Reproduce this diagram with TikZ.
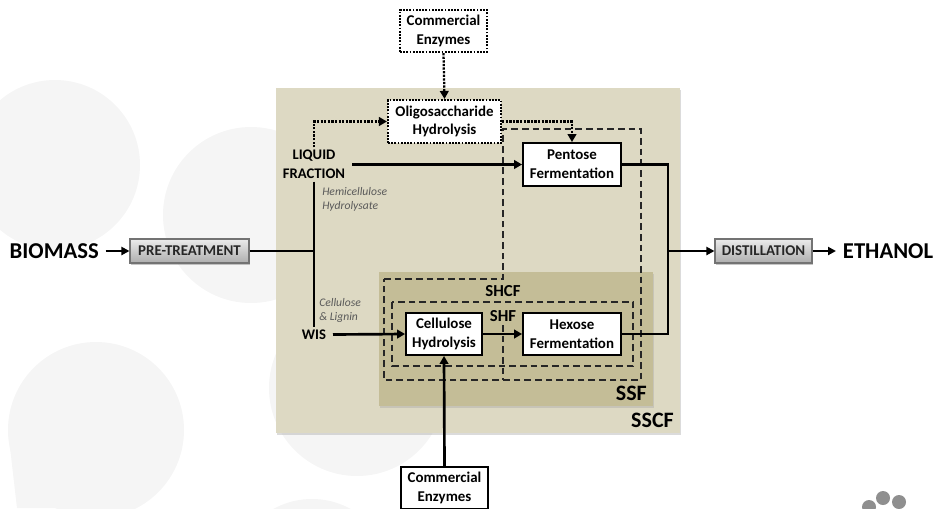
\documentclass[tikz,border=0pt]{standalone}
\usepackage{fontspec}
\setmainfont{Carlito}
\usetikzlibrary{arrows.meta,positioning}
\definecolor{outerfill}{HTML}{DDD9C3}
\definecolor{innerfill}{HTML}{C4BD97}
\definecolor{blobfill}{HTML}{F5F5F5}
\tikzset{
  x=0.75pt,y=-0.75pt,
  blob/.style={fill=blobfill,draw=none},
  panelshadow/.style={fill=black!35,opacity=0.4,draw=none},
  flowbox/.style={draw=black,line width=1.4pt,fill=white,font=\fontsize{11.2}{14}\selectfont\bfseries,align=center,inner sep=0pt},
  dotbox/.style={flowbox,densely dotted,line width=1.6pt},
  greybox/.style={draw=black!55,line width=0.8pt,top color=black!8,bottom color=black!32,font=\fontsize{11.2}{12}\selectfont\bfseries,text=black!85,inner sep=0pt,align=center},
  title/.style={font=\fontsize{17}{19}\selectfont\bfseries,inner xsep=5pt,inner ysep=2pt},
  stream/.style={font=\fontsize{11}{14}\selectfont\bfseries,align=center,inner xsep=5pt,inner ysep=2pt},
  note/.style={font=\fontsize{8.7}{10.5}\selectfont\itshape,text=black!65,align=left,anchor=west,inner sep=0pt},
  region/.style={font=\fontsize{12.6}{14}\selectfont\bfseries,inner sep=0pt},
  bigregion/.style={font=\fontsize{16.5}{18}\selectfont\bfseries,inner sep=0pt},
  flow/.style={line width=2pt,-{Triangle[length=6pt,width=6.5pt]}},
  plainflow/.style={line width=2pt},
  thinflow/.style={line width=1.5pt,-{Triangle[length=6pt,width=6pt]}},
  dotflow/.style={line width=1.7pt,densely dotted,-{Triangle[length=6pt,width=6.5pt]}},
  zone/.style={draw=black!85,line width=0.8pt,dash pattern=on 5pt off 3pt},
  sizepx/.style 2 args={minimum width=#1*0.75pt,minimum height=#2*0.75pt},
}
\begin{document}
\begin{tikzpicture}
\useasboundingbox (0,0) rectangle (935,508);
\begin{scope}
\clip (0,0) rectangle (935,508);
% background blobs
\fill[blob] (55,165) circle[radius=85];
\fill[blob] (251,215) circle[radius=88];
\fill[blob] (96,430) circle[radius=88];
\fill[blob] (8,430) -- (17,508) -- (96,508) -- (96,430) -- cycle;
\fill[blob] (357,388) circle[radius=88];
\fill[blob] (312,579) circle[radius=80];
% logo
\fill[black!44] (883,498) circle[radius=7];
\fill[black!44] (899,502) circle[radius=7];
\fill[black!44] (869,507) circle[radius=7];
% panels
\fill[panelshadow] (277,90) rectangle (681,435);
\fill[outerfill] (276,88) rectangle (680,433);
\fill[panelshadow] (380,274) rectangle (654,408);
\fill[innerfill] (379,272) rectangle (653,406);
% dashed zones
\draw[zone] (384,279) -- (503,279) -- (503,129) -- (641,129) -- (641,380) -- (384,380) -- cycle;
\draw[zone] (392,302) rectangle (633,366);
\draw[zone] (503,325) -- (503,380);
% boxes
\node[dotbox,sizepx={87}{42}] (enzA) at (443.5,31) {Commercial\\Enzymes};
\node[dotbox,sizepx={113}{43}] (oligo) at (444.5,121.5) {Oligosaccharide\\Hydrolysis};
\node[flowbox,sizepx={98}{43}] (pent) at (572,164.5) {Pentose\\Fermentation};
\node[flowbox,sizepx={76}{42}] (cell) at (444,334) {Cellulose\\Hydrolysis};
\node[flowbox,sizepx={98}{42}] (hex) at (572,334) {Hexose\\Fermentation};
\node[flowbox,sizepx={87}{42}] (enzB) at (444.5,488) {Commercial\\Enzymes};
\fill[black!50,opacity=0.45] (131,241) rectangle (250,265);
\fill[black!50,opacity=0.45] (716,241) rectangle (813,265);
\node[greybox,sizepx={119}{24}] (pre) at (189.5,251) {PRE-TREATMENT};
\node[greybox,sizepx={97}{24}] (dist) at (763.5,251) {DISTILLATION};
% labels
\node[title,anchor=east] (bio) at (105.7,251) {BIOMASS};
\node[title,anchor=west] (eth) at (836,251) {ETHANOL};
\node[stream] (liq) at (314,164.5) {LIQUID\\FRACTION};
\node[stream] (wis) at (314,334.5) {WIS};
\node[note] (hemi) at (322,199) {Hemicellulose\\Hydrolysate};
\node[note] (cellig) at (319,310) {Cellulose\\\& Lignin};
\node[region] (shcf) at (503,291) {SHCF};
\node[region] (shf) at (503,316) {SHF};
\node[bigregion,anchor=east] (ssf) at (647,393) {SSF};
\node[bigregion,anchor=east] (sscf) at (674,420) {SSCF};
% junctions
\coordinate (split) at (314,251);
\coordinate (merge) at (668,251);
\coordinate (pentturn) at (668,164.5);
\coordinate (hexturn) at (668,334);
% connectors
\draw[thinflow] (bio.east) -- (pre.west);
\draw[plainflow] (pre.east) -- (split);
\draw[plainflow] (liq.south) -- (wis.north);
\draw[flow] (liq.east) -- (pent.west);
\draw[flow] (wis.east) -- (cell.west);
\draw[flow] (cell.east) -- (hex.west);
\draw[flow] (enzB.north) -- (cell.south);
\draw[plainflow] (pent.east) -- (pentturn) -- (hexturn) -- (hex.east);
\draw[thinflow] (merge) -- (dist.west);
\draw[thinflow] (dist.east) -- (eth.west);
\draw[dotflow] (enzA.south) -- (oligo.north);
\draw[dotflow] (liq.north) |- (oligo.west);
\draw[dotflow] (oligo.east) -| (pent.north);
\end{scope}
\end{tikzpicture}
\end{document}
